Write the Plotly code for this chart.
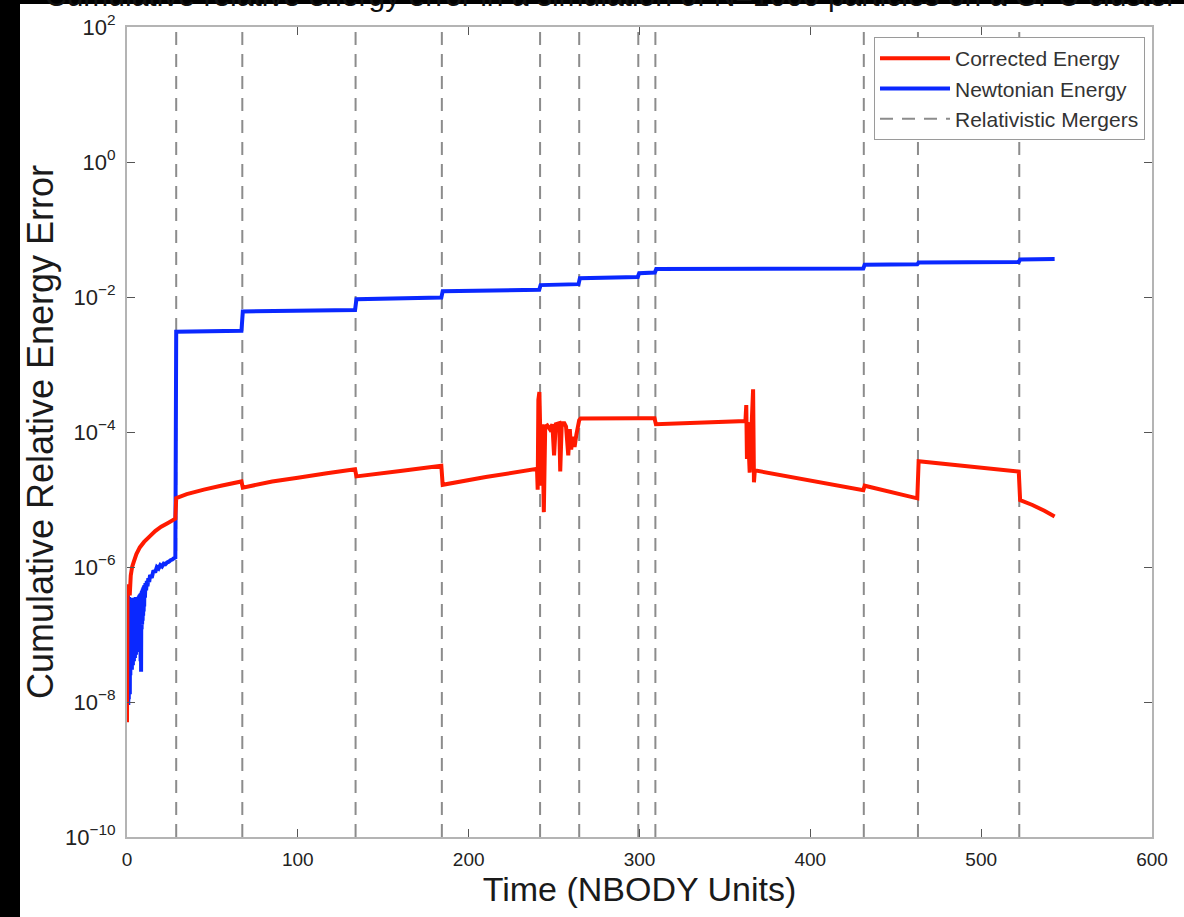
import plotly.graph_objects as go

# ---------------- data ----------------
merger_times = [28.8, 67.5, 133.8, 184.3, 241.8, 264.7, 299.3, 309.3, 431.3, 463.0, 522.3]

newton_t = [0.30, 0.45, 0.60, 0.75, 0.90, 1.05, 1.20, 1.35, 1.50, 1.65, 1.80, 1.95, 2.10, 2.25,
            2.40, 2.55, 2.70, 2.85, 3.00, 3.15, 3.30, 3.45, 3.60, 3.75, 3.90, 4.05, 4.20, 4.35,
            4.50, 4.65, 4.80, 4.95, 5.10, 5.25, 5.40, 5.55, 5.70, 5.85, 6.00, 6.15, 6.30, 6.45,
            6.60, 6.75, 6.90, 7.05, 7.20, 7.35, 7.50, 7.65, 7.80, 7.95, 8.10, 8.25, 8.40, 8.55,
            8.70, 8.85, 9.00, 9.15, 9.30, 9.45, 9.60, 9.75, 9.90, 10.05, 10.20,
            10.5, 10.8, 11.2, 11.6, 12.0, 12.5, 13.0, 13.5, 14.5, 15.5, 16.5, 17.5,
            18.5, 19.5, 20.5, 21.5, 22.5, 23.5, 24.5, 25.5, 26.5, 27.5, 28.3,
            28.8, 67.0, 67.8, 133.5, 134.3, 184.0, 184.8, 241.3, 242.1, 264.3, 265.1,
            299.0, 299.8, 309.0, 309.8, 431.0, 431.8, 462.6, 463.4, 522.0, 522.8, 543.0]
newton_err = [4.5e-7, 2.0e-8, 3.8e-7, 9.0e-9, 3.5e-7, 1.1e-8, 3.6e-7, 1.5e-8, 3.4e-7, 1.3e-8,
              3.5e-7, 2.5e-8, 3.4e-7, 3.0e-8, 3.5e-7, 3.5e-8, 3.3e-7, 3.0e-8, 3.5e-7, 4.0e-8,
              3.4e-7, 3.5e-8, 3.5e-7, 4.5e-8, 3.3e-7, 4.0e-8, 3.5e-7, 5.0e-8, 3.4e-7, 4.5e-8,
              3.5e-7, 5.5e-8, 3.6e-7, 5.0e-8, 3.4e-7, 6.0e-8, 3.5e-7, 5.5e-8, 3.6e-7, 7.0e-8,
              3.5e-7, 6.5e-8, 3.6e-7, 8.0e-8, 3.7e-7, 7.5e-8, 3.8e-7, 9.0e-8, 3.9e-7, 8.5e-8,
              4.0e-7, 4.0e-8, 4.1e-7, 2.8e-8, 4.2e-7, 1.2e-7, 4.4e-7, 1.4e-7, 4.6e-7, 1.6e-7,
              4.8e-7, 1.9e-7, 5.0e-7, 2.2e-7, 5.2e-7, 2.6e-7, 5.4e-7,
              3.5e-7, 5.8e-7, 4.5e-7, 6.2e-7, 5.2e-7, 6.8e-7, 6.0e-7, 7.6e-7, 6.9e-7, 8.9e-7,
              8.3e-7, 1.0e-6, 9.5e-7, 1.07e-6, 1.02e-6, 1.12e-6, 1.1e-6, 1.17e-6, 1.2e-6,
              1.26e-6, 1.29e-6, 1.35e-6, 1.38e-6,
              3.05e-3, 3.15e-3, 6.1e-3, 6.4e-3, 9.3e-3, 9.8e-3, 1.22e-2, 1.28e-2, 1.5e-2, 1.55e-2,
              1.9e-2, 1.98e-2, 2.25e-2, 2.3e-2, 2.6e-2, 2.65e-2, 3.0e-2, 3.05e-2, 3.25e-2, 3.3e-2,
              3.6e-2, 3.65e-2]

corrected_t = [0.0, 0.3, 1.0, 1.6, 2.2, 3.0, 4.0, 5.5, 7.5, 10.0, 13.0, 16.5, 20.0, 24.0, 28.3,
               28.8, 35.0, 45.0, 55.0, 67.0, 67.8, 85.0, 100.0, 117.0, 133.5, 134.3, 160.0,
               184.0, 184.8, 210.0, 240.0, 240.4, 240.8, 241.4, 241.9, 242.5, 243.2, 244.0,
               244.8, 246.0, 247.5, 249.0, 250.0, 251.0, 253.0, 253.6, 254.5, 256.0, 257.0,
               258.3, 259.2, 260.0, 261.0, 262.0, 263.0, 264.7, 265.5, 299.0, 308.8, 309.6,
               362.0, 362.5, 362.9, 363.3, 364.5, 366.5, 367.0, 367.5, 431.0, 431.8, 462.6,
               463.4, 522.0, 522.8, 530.0, 537.0, 543.0]
corrected_err = [5.0e-9, 4.5e-7, 5.5e-7, 3.8e-7, 7.5e-7, 1.0e-6, 1.2e-6, 1.55e-6, 1.95e-6,
                 2.35e-6, 2.8e-6, 3.4e-6, 3.95e-6, 4.5e-6, 5.2e-6,
                 1.05e-5, 1.2e-5, 1.4e-5, 1.6e-5, 1.85e-5, 1.5e-5, 1.85e-5, 2.1e-5, 2.45e-5,
                 2.8e-5, 2.2e-5, 2.65e-5, 3.15e-5, 1.65e-5, 2.15e-5, 2.85e-5, 1.4e-5, 3.0e-4,
                 3.9e-4, 1.0e-4, 1.6e-5, 1.3e-4, 6.5e-6, 1.2e-4, 1.25e-4, 1.1e-4, 1.3e-4, 4.5e-5,
                 1.3e-4, 1.35e-4, 2.6e-5, 1.35e-4, 1.35e-4, 1.2e-4, 4.5e-5, 1.1e-4, 5.5e-5,
                 8.5e-5, 6.0e-5, 9.0e-5, 1.5e-4, 1.58e-4, 1.6e-4, 1.6e-4, 1.3e-4,
                 1.45e-4, 2.5e-4, 4.0e-5, 1.4e-4, 2.5e-5, 4.3e-4, 1.8e-5, 2.7e-5, 1.37e-5,
                 1.6e-5, 1.04e-5, 3.7e-5, 2.6e-5, 9.8e-6, 8.3e-6, 6.8e-6, 5.6e-6]

x_ticks = [0, 100, 200, 300, 400, 500, 600]
y_tick_exps = [-10, -8, -6, -4, -2, 0, 2]

title_text = "Cumulative relative energy error in a simulation of N=1000 particles on a GPU cluster"

# ---------------- figure ----------------
W, H = 1184, 917
L, R, T, B = 127, 32, 27, 80
pw, ph = W - L - R, H - T - B

def px(x):
    return (x - L) / pw

def py(y):
    return (H - B - y) / ph

FONT = "Liberation Sans, Arial, Helvetica, sans-serif"

merge_x, merge_y = [], []
for t in merger_times:
    merge_x += [t, t, None]
    merge_y += [10.0 ** y_tick_exps[0], 10.0 ** y_tick_exps[-1], None]

fig = go.Figure()
fig.add_trace(go.Scatter(
    x=merge_x, y=merge_y, mode="lines", name="Relativistic Mergers",
    line=dict(color="#8c8c8c", width=2, dash="13px,9px"), legendrank=3,
    hoverinfo="skip"))
fig.add_trace(go.Scatter(
    x=newton_t, y=newton_err, mode="lines", name="Newtonian Energy",
    line=dict(color="#0a28ff", width=4, simplify=False), legendrank=2))
fig.add_trace(go.Scatter(
    x=corrected_t, y=corrected_err, mode="lines", name="Corrected Energy",
    line=dict(color="#ff1a00", width=4, simplify=False), legendrank=1))

axis_common = dict(
    showline=True, linecolor="#b4b4b4", linewidth=2, mirror="ticks",
    ticks="inside", ticklen=8, tickwidth=1, tickcolor="#555555",
    showgrid=False, zeroline=False,
)

fig.update_layout(
    width=W, height=H,
    margin=dict(l=L, r=R, t=T, b=B, autoexpand=False),
    paper_bgcolor="white", plot_bgcolor="white",
    font=dict(family=FONT, color="#222222"),
    xaxis=dict(
        range=[0, 600], tickvals=x_ticks, ticktext=[str(v) for v in x_ticks],
        ticklabelstandoff=4,
        tickfont=dict(family=FONT, size=19, color="#222222"),
        title=dict(text="Time (NBODY Units)", font=dict(family=FONT, size=34, color="#1a1a1a"),
                   standoff=2),
        automargin=False, **axis_common),
    yaxis=dict(
        type="log", range=[y_tick_exps[0], y_tick_exps[-1]],
        tickvals=[10.0 ** e for e in y_tick_exps],
        ticktext=["10<sup>%s</sup>" % (str(e).replace("-", "\u2212")) for e in y_tick_exps],
        ticklabelstandoff=5,
        tickfont=dict(family=FONT, size=22, color="#222222"),
        title=dict(text="Cumulative Relative Energy Error",
                   font=dict(family=FONT, size=36, color="#1a1a1a"), standoff=0),
        automargin=False, **axis_common),
    legend=dict(
        x=px(1145), y=py(37), xanchor="right", yanchor="top",
        bgcolor="white", bordercolor="#9a9a9a", borderwidth=1,
        font=dict(family=FONT, size=21, color="#333333"),
        tracegroupgap=0, itemwidth=70,
    ),
    showlegend=True,
    shapes=[
        dict(type="rect", xref="paper", yref="paper", x0=px(0), x1=px(20), y0=py(917), y1=py(0),
             fillcolor="black", line=dict(width=0), layer="above"),
        dict(type="rect", xref="paper", yref="paper", x0=px(0), x1=px(1184), y0=py(4), y1=py(0),
             fillcolor="black", line=dict(width=0), layer="above"),
    ],
    annotations=[
        dict(text=title_text, xref="paper", yref="paper", x=px(610), y=py(14),
             xanchor="center", yanchor="bottom", showarrow=False,
             font=dict(family=FONT, size=30, color="#111111")),
    ],
)

fig.write_html("out.html")
